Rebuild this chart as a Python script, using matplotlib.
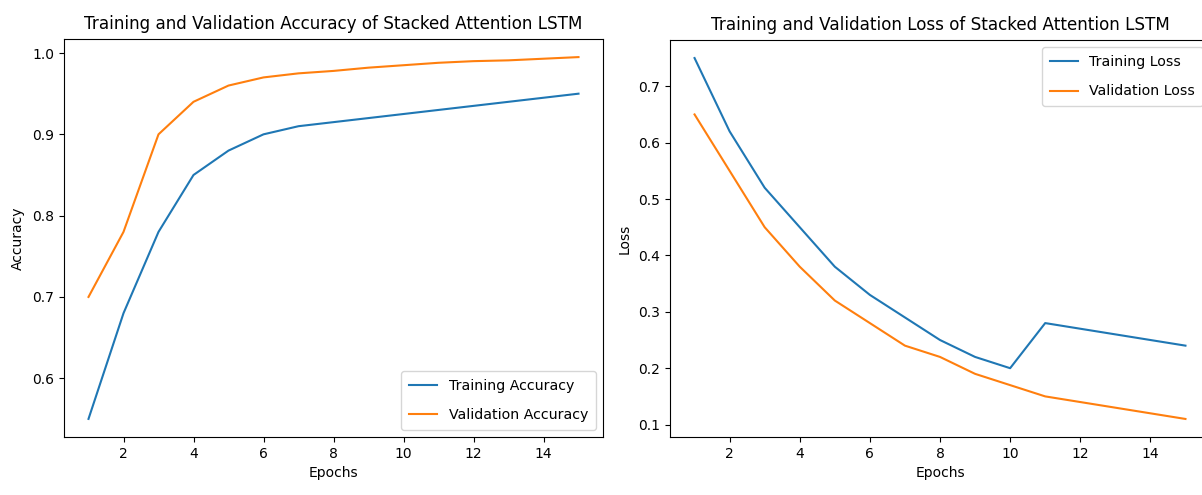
import matplotlib
matplotlib.use("Agg")
import matplotlib.pyplot as plt

epochs = list(range(1, 16))
train_acc = [0.55, 0.68, 0.78, 0.85, 0.88, 0.90, 0.91, 0.915, 0.92, 0.925, 0.93, 0.935, 0.94, 0.945, 0.95]
val_acc = [0.70, 0.78, 0.90, 0.94, 0.96, 0.97, 0.975, 0.978, 0.982, 0.985, 0.988, 0.99, 0.991, 0.993, 0.995]
train_loss = [0.75, 0.62, 0.52, 0.45, 0.38, 0.33, 0.29, 0.25, 0.22, 0.20, 0.28, 0.27, 0.26, 0.25, 0.24]
val_loss = [0.65, 0.55, 0.45, 0.38, 0.32, 0.28, 0.24, 0.22, 0.19, 0.17, 0.15, 0.14, 0.13, 0.12, 0.11]

plt.rcParams['font.family'] = ['DejaVu Sans']

fig = plt.figure(figsize=(12.02, 4.95), dpi=100)
W, H = 1202, 495
ax1 = fig.add_axes([64 / W, (H - 437) / H, 539 / W, 398 / H])
ax2 = fig.add_axes([670 / W, (H - 437) / H, 540 / W, 397 / H])

leg_kw = dict(labelspacing=1.1, borderpad=0.55, fontsize=10.2)

ax1.plot(epochs, train_acc, label='Training Accuracy')
ax1.plot(epochs, val_acc, label='Validation Accuracy')
ax1.set_title('Training and Validation Accuracy of Stacked Attention LSTM', fontsize=12.1, pad=7)
ax1.set_xlabel('Epochs')
ax1.set_ylabel('Accuracy', labelpad=5)
ax1.legend(loc='lower right', **leg_kw)

ax2.plot(epochs, train_loss, label='Training Loss')
ax2.plot(epochs, val_loss, label='Validation Loss')
ax2.set_title('Training and Validation Loss of Stacked Attention LSTM', fontsize=12.1, pad=7)
ax2.set_xlabel('Epochs')
ax2.set_ylabel('Loss', labelpad=5)
ax2.legend(loc='upper right', **leg_kw)

fig.savefig('out.png', dpi=100)
